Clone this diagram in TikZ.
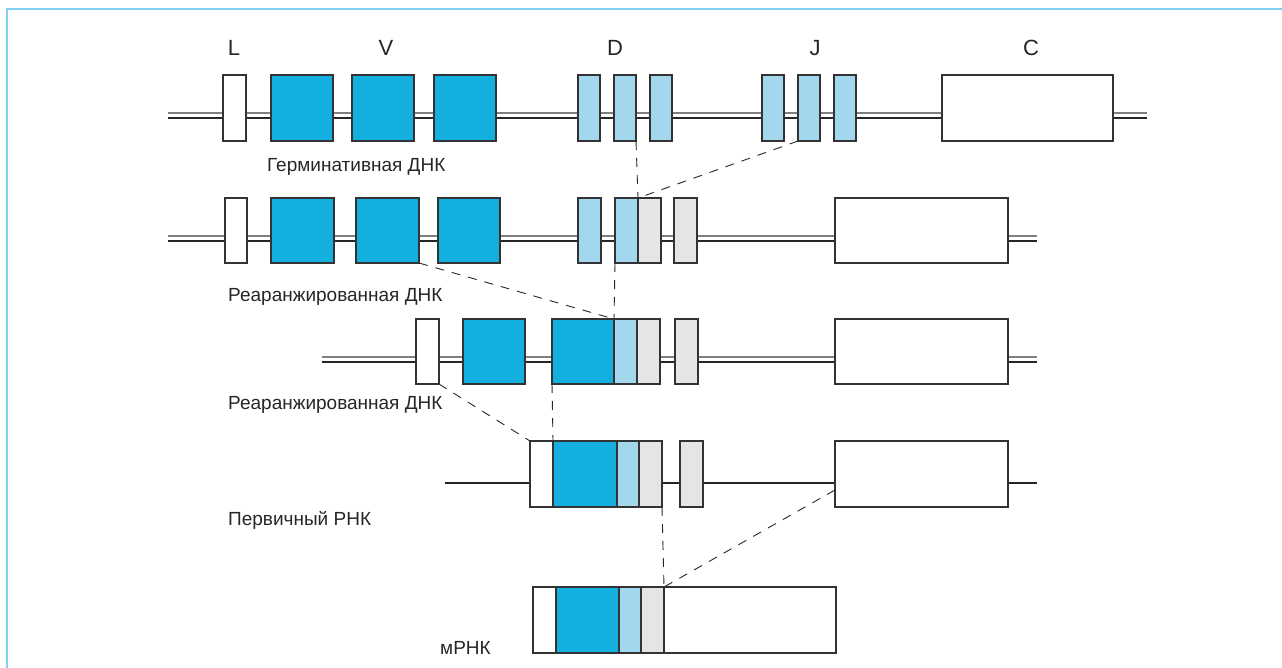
\documentclass[tikz,border=0pt]{standalone}
\usepackage{fontspec}
\setmainfont{Liberation Sans}
\definecolor{vblue}{HTML}{13AFDE}
\definecolor{dblue}{HTML}{A3D7EE}
\definecolor{jgrey}{HTML}{E4E5E7}
\definecolor{framec}{HTML}{80D2F2}
\definecolor{edgec}{HTML}{333333}
\newcommand\exon[6]{\pgfmathsetmacro\ew{#4-#2}\pgfmathsetmacro\eh{#5-#3}\node[#6, minimum width=\ew pt, minimum height=\eh pt] (#1) at (#2,#3) {};}
\tikzset{
 exonbox/.style={draw=edgec, line width=1.3pt, inner sep=0pt, outer sep=0pt, anchor=north west},
 lseg/.style={exonbox, fill=white},
 vseg/.style={exonbox, fill=vblue},
 dseg/.style={exonbox, fill=dblue},
 jseg/.style={exonbox, fill=jgrey},
 cseg/.style={exonbox, fill=white},
 upper/.style={draw=black!50, line width=1.3pt},
 lower/.style={draw=black!85, line width=1.2pt},
 link/.style={draw=black!85, line width=0.9pt, dash pattern=on 9pt off 8pt},
 lab/.style={font=\fontsize{19}{22}\selectfont, text=black!85, inner sep=0pt, anchor=west},
 head/.style={font=\fontsize{22}{24}\selectfont, text=black!85, inner sep=0pt}
}
\begin{document}
\begin{tikzpicture}[x=1pt,y=-1pt]
\useasboundingbox (0,0) rectangle (1282,667);
\draw[framec, line width=2pt] (7,668) -- (7,9) -- (1283,9);
% headings
\node[head] (hL) at (234,48) {L};
\node[head] (hV) at (386,48) {V};
\node[head] (hD) at (615,48) {D};
\node[head] (hJ) at (815,48) {J};
\node[head] (hC) at (1031,48) {C};
% row 1
\coordinate (a1) at (168,113); \coordinate (b1) at (1147,113);
\draw[upper] (a1) -- (b1);
\draw[lower] ([yshift=-5pt]a1) -- ([yshift=-5pt]b1);
\exon{L1}{223}{75}{246}{141}{lseg}
\exon{V11}{271}{75}{333}{141}{vseg}
\exon{V12}{352}{75}{414}{141}{vseg}
\exon{V13}{434}{75}{496}{141}{vseg}
\exon{D11}{578}{75}{600}{141}{dseg}
\exon{D12}{614}{75}{636}{141}{dseg}
\exon{D13}{650}{75}{672}{141}{dseg}
\exon{J11}{762}{75}{784}{141}{dseg}
\exon{J12}{798}{75}{820}{141}{dseg}
\exon{J13}{834}{75}{856}{141}{dseg}
\exon{C1}{942}{75}{1113}{141}{cseg}
\node[lab] (t1) at (267,167) {Герминативная ДНК};
% row 2
\coordinate (a2) at (168,236); \coordinate (b2) at (1037,236);
\draw[upper] (a2) -- (b2);
\draw[lower] ([yshift=-5pt]a2) -- ([yshift=-5pt]b2);
\exon{L2}{225}{198}{247}{263}{lseg}
\exon{V21}{271}{198}{334}{263}{vseg}
\exon{V22}{356}{198}{419}{263}{vseg}
\exon{V23}{438}{198}{500}{263}{vseg}
\exon{D21}{578}{198}{601}{263}{dseg}
\exon{D22}{615}{198}{638}{263}{dseg}
\exon{J22}{638}{198}{661}{263}{jseg}
\exon{J23}{674}{198}{697}{263}{jseg}
\exon{C2}{835}{198}{1008}{263}{cseg}
\node[lab] (t2) at (228,297) {Реаранжированная ДНК};
% row 3
\coordinate (a3) at (322,357); \coordinate (b3) at (1037,357);
\draw[upper] (a3) -- (b3);
\draw[lower] ([yshift=-5pt]a3) -- ([yshift=-5pt]b3);
\exon{L3}{416}{319}{439}{384}{lseg}
\exon{V31}{463}{319}{525}{384}{vseg}
\exon{V32}{552}{319}{614}{384}{vseg}
\exon{D3}{614}{319}{637}{384}{dseg}
\exon{J3}{637}{319}{660}{384}{jseg}
\exon{J33}{675}{319}{698}{384}{jseg}
\exon{C3}{835}{319}{1008}{384}{cseg}
\node[lab] (t3) at (228,405) {Реаранжированная ДНК};
% row 4
\coordinate (a4) at (445,483); \coordinate (b4) at (1037,483);
\draw[lower] (a4) -- (b4);
\exon{L4}{530}{441}{553}{507}{lseg}
\exon{V4}{553}{441}{617}{507}{vseg}
\exon{D4}{617}{441}{639}{507}{dseg}
\exon{J4}{639}{441}{662}{507}{jseg}
\exon{J44}{680}{441}{703}{507}{jseg}
\exon{C4}{835}{441}{1008}{507}{cseg}
\node[lab] (t4) at (228,520) {Первичный РНК};
% row 5
\exon{L5}{533}{587}{556}{653}{lseg}
\exon{V5}{556}{587}{619}{653}{vseg}
\exon{D5}{619}{587}{641}{653}{dseg}
\exon{J5}{641}{587}{664}{653}{jseg}
\exon{C5}{664}{587}{836}{653}{cseg}
\node[lab] (t5) at (440,648) {мРНК};
% dashed links
\draw[link] (D12.south east) -- (J22.north west);
\draw[link] (J12.south west) -- (J22.north west);
\draw[link] (V22.south east) -- (D3.north west);
\draw[link] (D22.south west) -- (D3.north west);
\draw[link] (L3.south east) -- (L4.north west);
\draw[link] (V32.south west) -- (V4.north west);
\draw[link] (J4.south east) -- (C5.north west);
\draw[link] ([yshift=-16pt]C4.west) -- (C5.north west);
\end{tikzpicture}
\end{document}
